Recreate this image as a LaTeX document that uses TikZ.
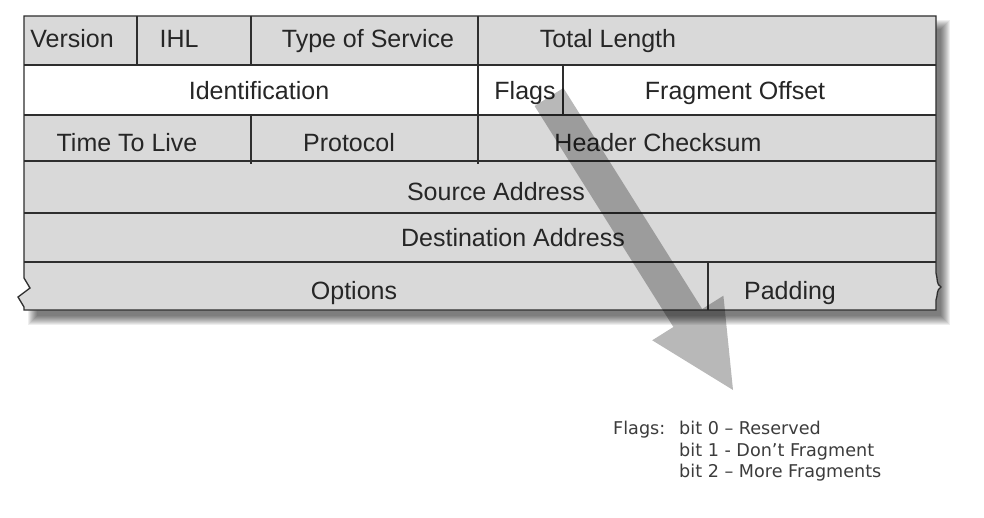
\documentclass[tikz,border=0pt]{standalone}
\usepackage{fontspec}
\setmainfont{Liberation Sans}
\newfontfamily\notefont{DejaVu Sans}
\definecolor{cellgray}{HTML}{D9D9D9}
\definecolor{linecol}{HTML}{2E2E2E}
\definecolor{txtcol}{HTML}{262626}
\begin{document}
\begin{tikzpicture}[x=1pt,y=-1pt,
  lbl/.style={anchor=base,inner sep=0pt,text=txtcol,font=\fontsize{25}{30}\selectfont},
  notetxt/.style={anchor=base west,inner sep=0pt,text=txtcol!90,font=\notefont\fontsize{17.6}{21}\selectfont},
  grid/.style={draw=linecol,line width=1.3pt}]
\useasboundingbox (0,0) rectangle (984,518);
\fill[white] (0,0) rectangle (984,518);
% blurred drop shadow
\foreach \d in {-5,-4,...,4}{
  \fill[black,opacity=0.065] (33+\d,25+\d) rectangle (945-\d,320-\d);
}
% table body
\def\outline{(24,16) -- (936,16) -- (936,273) .. controls (938,280) and (936,284) .. (941,287) .. controls (936,290) and (938,295) .. (936,300) -- (936,310) -- (24,310) -- (24,307) -- (18,297) -- (30,288) -- (24,278) -- cycle}
\fill[cellgray] \outline;
\fill[white] (24,65) rectangle (936,115);
% grid lines
\draw[grid] (24,65) -- (936,65);
\draw[grid] (24,115) -- (936,115);
\draw[grid] (24,161) -- (936,161);
\draw[grid] (24,213) -- (936,213);
\draw[grid] (24,262) -- (936,262);
\draw[grid] (137,16) -- (137,65);
\draw[grid] (251,16) -- (251,65);
\draw[grid] (478,16) -- (478,65);
\draw[grid] (478,65) -- (478,115);
\draw[grid] (563,65) -- (563,115);
\draw[grid] (251,115) -- (251,164);
\draw[grid] (478,115) -- (478,164);
\draw[grid] (708,262) -- (708,310);
\draw[grid,line join=miter] \outline;
% labels
\node[lbl] (version) at (72,48) {Version};
\node[lbl] (ihl) at (179,48) {IHL};
\node[lbl] (tos) at (368,48) {Type of Service};
\node[lbl] (tlen) at (608,48) {Total Length};
\node[lbl] (ident) at (259,100) {Identification};
\node[lbl] (flags) at (525,100) {Flags};
\node[lbl] (fragoff) at (735,100) {Fragment Offset};
\node[lbl] (ttl) at (127,152) {Time To Live};
\node[lbl] (proto) at (349,152) {Protocol};
\node[lbl] (hcs) at (658,152) {Header Checksum};
\node[lbl] (src) at (496,201) {Source Address};
\node[lbl] (dst) at (513,247) {Destination Address};
\node[lbl] (opts) at (354,299) {Options};
\node[lbl] (pad) at (790,299) {Padding};
% big arrow
\fill[black,opacity=0.28] (534.6,106) -- (563.4,88) -- (702.2,309) -- (723.4,295.7) -- (733,390) -- (652.2,340.3) -- (673.4,327) -- cycle;
% note
\node[notetxt] (nflags) at (613,434) {Flags:};
\node[notetxt] (nb0) at (679,434) {bit 0 – Reserved};
\node[notetxt] (nb1) at (679,456) {bit 1 - Don’t Fragment};
\node[notetxt] (nb2) at (679,477) {bit 2 – More Fragments};
\end{tikzpicture}
\end{document}
